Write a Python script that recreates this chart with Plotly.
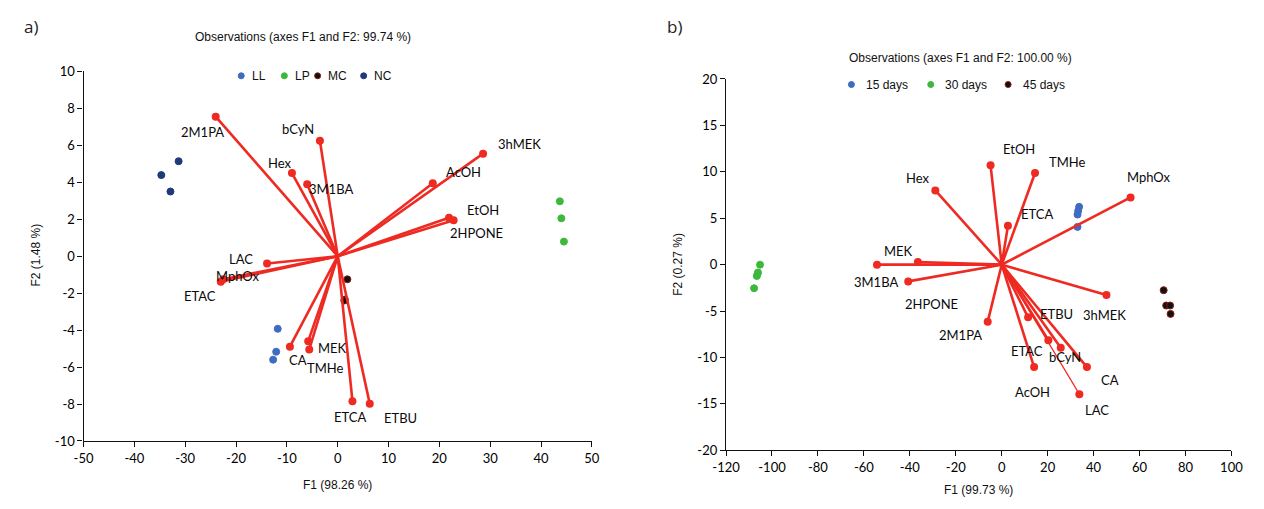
import plotly.graph_objects as go

# ---------------- Panel a data ----------------
A_VAR_NAMES = ["2M1PA", "bCyN", "Hex", "3M1BA", "3hMEK", "AcOH", "EtOH", "2HPONE",
               "LAC", "MphOx", "ETAC", "CA", "MEK", "TMHe", "ETCA", "ETBU"]
A_VAR_F1 = [-24.0, -3.5, -9.0, -6.0, 28.6, 18.7, 21.9, 22.8,
            -13.9, -22.5, -23.0, -9.4, -5.8, -5.6, 2.9, 6.3]
A_VAR_F2 = [7.55, 6.25, 4.5, 3.9, 5.55, 3.95, 2.08, 1.95,
            -0.4, -1.25, -1.38, -4.9, -4.6, -5.05, -7.85, -7.98]

A_OBS_GROUPS = ["LL", "LP", "MC", "NC"]
A_OBS_F1 = {"LL": [-11.8, -12.1, -12.7],
            "LP": [43.7, 44.0, 44.5],
            "MC": [1.9, 1.4, 1.3],
            "NC": [-34.7, -31.3, -32.9]}
A_OBS_F2 = {"LL": [-3.93, -5.17, -5.6],
            "LP": [2.97, 2.05, 0.79],
            "MC": [-1.25, -2.35, -2.4],
            "NC": [4.39, 5.14, 3.5]}

A_XTICKS = [-50, -40, -30, -20, -10, 0, 10, 20, 30, 40, 50]
A_YTICKS = [-10, -8, -6, -4, -2, 0, 2, 4, 6, 8, 10]

# ---------------- Panel b data ----------------
B_VAR_NAMES = ["Hex", "MEK", "3M1BA", "2HPONE", "2M1PA", "EtOH", "TMHe", "ETCA",
               "MphOx", "3hMEK", "ETBU", "ETAC", "bCyN", "CA", "AcOH", "LAC"]
B_VAR_F1 = [-28.9, -36.5, -54.3, -40.7, -6.1, -4.85, 14.5, 2.7,
            56.1, 45.6, 11.5, 20.3, 25.7, 37.1, 14.1, 33.8]
B_VAR_F2 = [8.0, 0.28, 0.0, -1.8, -6.16, 10.7, 9.88, 4.18,
            7.24, -3.27, -5.67, -8.14, -8.94, -11.03, -11.03, -13.95]

B_OBS_GROUPS = ["15 days", "30 days", "45 days"]
B_OBS_F1 = {"15 days": [33.7, 33.3, 33.0, 33.0],
            "30 days": [-105.2, -106.1, -106.3, -106.6, -107.8],
            "45 days": [70.5, 71.6, 73.3, 73.5]}
B_OBS_F2 = {"15 days": [6.23, 5.8, 5.4, 4.07],
            "30 days": [0.0, -0.84, -1.0, -1.22, -2.54],
            "45 days": [-2.75, -4.4, -4.4, -5.3]}

B_XTICKS = [-120, -100, -80, -60, -40, -20, 0, 20, 40, 60, 80, 100]
B_YTICKS = [-20, -15, -10, -5, 0, 5, 10, 15, 20]

TITLE_A = "Observations (axes F1 and F2: 99.74 %)"
TITLE_B = "Observations (axes F1 and F2: 100.00 %)"
XTITLE_A, YTITLE_A = "F1 (98.26 %)", "F2 (1.48 %)"
XTITLE_B, YTITLE_B = "F1 (99.73 %)", "F2 (0.27 %)"

# ---------------- styles ----------------
RED = "#EE2A22"
COLORS_A = {"LL": "#3D6CC0", "LP": "#3CB93C", "MC": "#111111", "NC": "#1E3A7B"}
EDGE_A = {"LL": "#3D6CC0", "LP": "#3CB93C", "MC": "#8B1A10", "NC": "#1E3A7B"}
COLORS_B = {"15 days": "#3D6CC0", "30 days": "#3CB93C", "45 days": "#111111"}
EDGE_B = {"15 days": "#3D6CC0", "30 days": "#3CB93C", "45 days": "#8B1A10"}

OFF_A = {"2M1PA": (-13, -15), "bCyN": (-22, 12), "Hex": (-12, 10), "3M1BA": (24, -5),
         "3hMEK": (36, 10), "AcOH": (31, 11), "EtOH": (34, 8), "2HPONE": (23, -13),
         "LAC": (-26, 5), "MphOx": (15, 3), "ETAC": (-21, -14), "CA": (8, -13),
         "MEK": (24, -7), "TMHe": (16, -19), "ETCA": (-2, -16), "ETBU": (31, -14)}
OFF_B = {"Hex": (-17, 12), "MEK": (-19, 11), "3M1BA": (-1, -17), "2HPONE": (23, -23),
         "2M1PA": (-27, -13), "EtOH": (28, 16), "TMHe": (32, 11), "ETCA": (29, 12),
         "MphOx": (18, 20), "3hMEK": (-2, -20), "ETBU": (28, 3), "ETAC": (-21, -11),
         "bCyN": (4, -9), "CA": (23, -13), "AcOH": (-2, -25), "LAC": (18, -16)}

LEG_A_MARKER_X = [232, 276, 310, 357]
LEG_A_Y = 70
LEG_B_MARKER_X = [855, 936, 1015]
LEG_B_Y = 79

LABEL_FONT = dict(family="Lato, Open Sans, sans-serif", size=13, color="#0a0a0a")
TICK_FONT = dict(family="Lato, Open Sans, sans-serif", size=13, color="#000000")
SMALL_FONT = dict(family="Liberation Sans, Arial, sans-serif", size=12, color="#111111")

W, H = 1264, 509


def px(xp):
    return xp / W


def py(yp):
    return 1 - yp / H


fig = go.Figure()


def add_vectors(names, xs, ys, xa, ya, thin=()):
    lx, ly = [], []
    for n, x, y in zip(names, xs, ys):
        if n in thin:
            continue
        lx += [0, x, None]
        ly += [0, y, None]
    fig.add_trace(go.Scatter(x=lx, y=ly, mode="lines", xaxis=xa, yaxis=ya,
                             line=dict(color=RED, width=2.6), showlegend=False,
                             hoverinfo="skip"))
    for n, x, y in zip(names, xs, ys):
        if n in thin:
            fig.add_trace(go.Scatter(x=[0, x], y=[0, y], mode="lines", xaxis=xa, yaxis=ya,
                                     line=dict(color=RED, width=1.2), showlegend=False,
                                     hoverinfo="skip"))
    fig.add_trace(go.Scatter(x=xs, y=ys, mode="markers", xaxis=xa, yaxis=ya,
                             marker=dict(color=RED, size=8), showlegend=False,
                             text=names, hoverinfo="text"))


for g in A_OBS_GROUPS:
    fig.add_trace(go.Scatter(x=A_OBS_F1[g], y=A_OBS_F2[g], mode="markers", name=g,
                             xaxis="x", yaxis="y", showlegend=False,
                             marker=dict(color=COLORS_A[g], size=7,
                                         line=dict(color=EDGE_A[g], width=1))))
add_vectors(A_VAR_NAMES, A_VAR_F1, A_VAR_F2, "x", "y")

for g in B_OBS_GROUPS:
    fig.add_trace(go.Scatter(x=B_OBS_F1[g], y=B_OBS_F2[g], mode="markers", name=g,
                             xaxis="x2", yaxis="y2", showlegend=False,
                             marker=dict(color=COLORS_B[g], size=7,
                                         line=dict(color=EDGE_B[g], width=1))))
add_vectors(B_VAR_NAMES, B_VAR_F1, B_VAR_F2, "x2", "y2", thin=("LAC",))

annotations = []
for n, x, y in zip(A_VAR_NAMES, A_VAR_F1, A_VAR_F2):
    dx, dy = OFF_A[n]
    annotations.append(dict(x=x, y=y, xref="x", yref="y", text=n, showarrow=False,
                            xshift=dx, yshift=dy, font=LABEL_FONT))
for n, x, y in zip(B_VAR_NAMES, B_VAR_F1, B_VAR_F2):
    dx, dy = OFF_B[n]
    annotations.append(dict(x=x, y=y, xref="x2", yref="y2", text=n, showarrow=False,
                            xshift=dx, yshift=dy, font=LABEL_FONT))


def ann(xp, yp, text, font, xanchor="center", angle=0):
    return dict(x=px(xp), y=py(yp), xref="paper", yref="paper", text=text,
                showarrow=False, xanchor=xanchor, yanchor="middle", textangle=angle,
                font=font)


AX_TITLE_FONT = dict(family="Liberation Sans, Arial", size=12, color="#111")
annotations += [
    ann(295, 30, TITLE_A, SMALL_FONT),
    ann(966, 52, TITLE_B, SMALL_FONT),
    ann(8, 19, "a)", dict(family="Open Sans, sans-serif", size=17, color="#222"), "left"),
    ann(665, 19, "b)", dict(family="Open Sans, sans-serif", size=17, color="#222"), "left"),
    ann(330, 492, XTITLE_A, AX_TITLE_FONT),
    ann(22, 255, YTITLE_A, AX_TITLE_FONT, angle=-90),
    ann(985, 498, XTITLE_B, AX_TITLE_FONT),
    ann(678, 265, YTITLE_B, AX_TITLE_FONT, angle=-90),
]

shapes = []


def legend_item(xm, ym, gap, name, fill, edge):
    shapes.append(dict(type="circle", xref="paper", yref="paper",
                       xsizemode="pixel", ysizemode="pixel",
                       xanchor=px(xm), yanchor=py(ym), x0=-3, x1=3, y0=-3, y1=3,
                       fillcolor=fill, line=dict(color=edge, width=1)))
    annotations.append(ann(xm + gap, ym, name, SMALL_FONT, "left"))


for g, xm in zip(A_OBS_GROUPS, LEG_A_MARKER_X):
    legend_item(xm, LEG_A_Y, 9, g, COLORS_A[g], EDGE_A[g])
for g, xm in zip(B_OBS_GROUPS, LEG_B_MARKER_X):
    legend_item(xm, LEG_B_Y, 13, g, COLORS_B[g], EDGE_B[g])

axis_common = dict(showgrid=False, zeroline=False, showline=True, linecolor="#111",
                   linewidth=1.3, ticks="outside", ticklen=5, tickcolor="#111",
                   tickfont=TICK_FONT, mirror=False, tickmode="array")

fig.update_layout(
    width=W, height=H, autosize=False,
    margin=dict(l=0, r=0, t=0, b=0),
    paper_bgcolor="white", plot_bgcolor="white",
    xaxis=dict(domain=[px(71), px(590)], range=[-50, 50], anchor="y",
               tickvals=A_XTICKS, ticktext=[str(v) for v in A_XTICKS], **axis_common),
    yaxis=dict(domain=[py(447), py(65.5)], range=[-10, 10], anchor="x",
               tickvals=A_YTICKS, ticktext=[str(v) for v in A_YTICKS], **axis_common),
    xaxis2=dict(domain=[px(727), px(1243)], range=[-120, 100], anchor="y2",
                tickvals=B_XTICKS, ticktext=[str(v) for v in B_XTICKS], **axis_common),
    yaxis2=dict(domain=[py(456.7), py(73.3)], range=[-20, 20], anchor="x2",
                tickvals=B_YTICKS, ticktext=[str(v) for v in B_YTICKS], **axis_common),
    annotations=annotations,
    shapes=shapes,
    showlegend=False,
)

fig.write_html("out.html", config={"displayModeBar": False},
               post_script="document.body.style.margin='0';document.body.style.overflow='hidden';")
